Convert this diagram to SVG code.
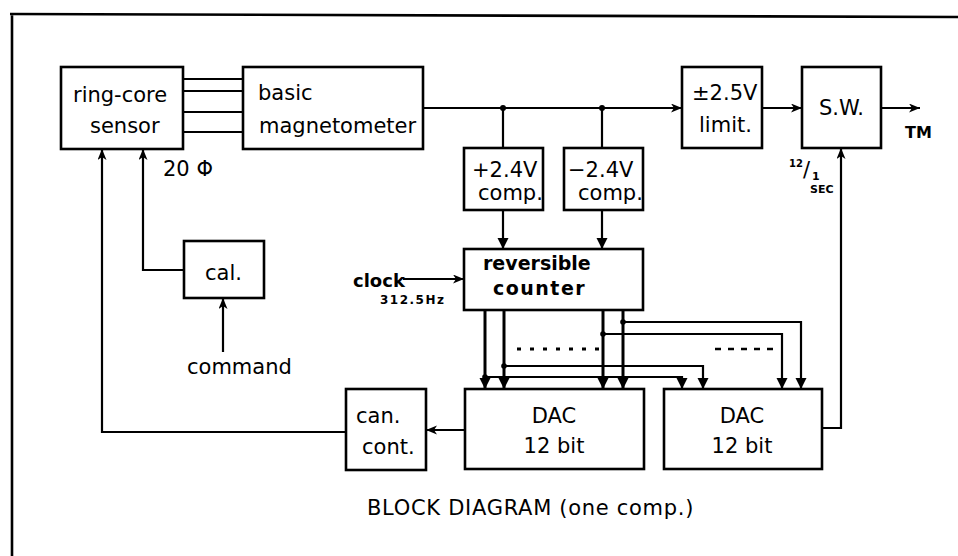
<svg xmlns="http://www.w3.org/2000/svg" width="958" height="556" viewBox="0 0 958 556">
<style>
.box{fill:none;stroke:#000;stroke-width:2.6}
.t{font-family:"DejaVu Sans",sans-serif;font-size:21px;fill:#000}
.tb{font-family:"DejaVu Sans",sans-serif;font-weight:bold;fill:#000}
.w{fill:none;stroke:#000;stroke-width:2.2}
.bus{fill:none;stroke:#000;stroke-width:3}
.dot{fill:#000}
</style>
<defs>
<marker id="a" markerUnits="userSpaceOnUse" markerWidth="12" markerHeight="10" refX="11" refY="4.5" orient="auto">
<path d="M0,0 L11,4.5 L0,9 L3,4.5 Z" fill="#000"/>
</marker>
<marker id="b" markerUnits="userSpaceOnUse" markerWidth="12" markerHeight="12" refX="11" refY="5.5" orient="auto">
<path d="M0,0 L11,5.5 L0,11 Z" fill="#000"/>
</marker>
</defs>
<rect width="958" height="556" fill="#fff"/>
<path d="M10,14 L958,17 M12,14 L12,556" fill="none" stroke="#000" stroke-width="2.6"/>

<g id="sensor"><rect class="box" x="61" y="67" width="122" height="82"/><text class="t" x="73" y="102">ring-core</text><text class="t" x="90" y="133">sensor</text></g>
<g id="magnetometer"><rect class="box" x="243" y="67" width="180" height="82"/><text class="t" x="258" y="100">basic</text><text class="t" x="259" y="133">magnetometer</text></g>
<g id="limit"><rect class="box" x="682" y="67" width="80" height="81"/><text class="t" x="692" y="100">±2.5V</text><text class="t" x="699" y="132">limit.</text></g>
<g id="sw"><rect class="box" x="802" y="67" width="79" height="81"/><text class="t" x="819" y="115">S.W.</text></g>
<g id="comp-plus"><rect class="box" x="464" y="148" width="79" height="62"/><text class="t" x="472" y="177" font-size="20">+2.4V</text><text class="t" x="478" y="200" font-size="20">comp.</text></g>
<g id="comp-minus"><rect class="box" x="564" y="148" width="79" height="62"/><text class="t" x="568" y="177" font-size="20">−2.4V</text><text class="t" x="578" y="200" font-size="20">comp.</text></g>
<g id="counter"><rect class="box" x="464" y="249" width="179" height="61"/><text class="tb" x="483" y="270" font-size="19">reversible</text><text class="tb" x="493" y="295" font-size="19" letter-spacing="1.5">counter</text></g>
<g id="cal"><rect class="box" x="184" y="241" width="80" height="57"/><text class="t" x="205" y="280">cal.</text></g>
<g id="cancont"><rect class="box" x="346" y="389" width="80" height="81"/><text class="t" x="356" y="423">can.</text><text class="t" x="362" y="454">cont.</text></g>
<g id="dac1"><rect class="box" x="465" y="389" width="179" height="80"/><text class="t" x="554" y="423" text-anchor="middle">DAC</text><text class="t" x="554" y="453" text-anchor="middle">12 bit</text></g>
<g id="dac2"><rect class="box" x="664" y="389" width="158" height="80"/><text class="t" x="742" y="423" text-anchor="middle">DAC</text><text class="t" x="742" y="453" text-anchor="middle">12 bit</text></g>

<g id="connectors">
<path class="w" d="M183,79 H243 M183,91 H243 M183,112 H243 M183,132 H243"/>
<path class="w" d="M423,108 H682" marker-end="url(#a)"/>
<path class="w" d="M762,108 H802" marker-end="url(#a)"/>
<path class="w" d="M881,108 H920" marker-end="url(#a)"/>
<path class="w" d="M503,108 V148 M602,108 V148"/>
<circle class="dot" cx="503" cy="108" r="3"/><circle class="dot" cx="602" cy="108" r="3"/>
<path class="w" d="M503,210 V249" marker-end="url(#b)"/>
<path class="w" d="M602,210 V249" marker-end="url(#b)"/>
<path class="w" d="M403,279 H464" marker-end="url(#a)"/>
<path class="w" d="M223,352 V298" marker-end="url(#a)"/>
<path class="w" d="M184,270 H143 V149" marker-end="url(#a)"/>
<path class="w" d="M346,432 H102 V149" marker-end="url(#a)"/>
<path class="w" d="M465,430 H426" marker-end="url(#a)"/>
<path class="w" d="M822,428 H841 V148" marker-end="url(#a)"/>
<path class="bus" d="M485,310 V389" marker-end="url(#b)"/>
<path class="bus" d="M504,310 V389" marker-end="url(#b)"/>
<path class="bus" d="M603,310 V389" marker-end="url(#b)"/>
<path class="bus" d="M623,310 V389" marker-end="url(#b)"/>
<path class="w" d="M623,322 H801 V389" marker-end="url(#b)"/>
<path class="w" d="M603,334 H782 V389" marker-end="url(#b)"/>
<path class="w" d="M504,366 H703 V389" marker-end="url(#b)"/>
<path class="w" d="M485,377 H682 V389" marker-end="url(#b)"/>
<circle class="dot" cx="623" cy="322" r="2.8"/><circle class="dot" cx="603" cy="334" r="2.8"/>
<circle class="dot" cx="504" cy="366" r="2.8"/><circle class="dot" cx="485" cy="377" r="2.8"/>
<path d="M517,349 H600" fill="none" stroke="#000" stroke-width="3" stroke-dasharray="4,9"/>
<path d="M715,349 H780" fill="none" stroke="#000" stroke-width="2.6" stroke-dasharray="6,7"/>
</g>

<text class="t" x="163" y="176" font-size="18">20 Φ</text>
<text class="tb" x="353" y="287" font-size="18">clock</text>
<text class="tb" x="380" y="304" font-size="12" letter-spacing="1.5">312.5Hz</text>
<text class="t" x="187" y="374">command</text>
<text class="tb" x="789" y="167" font-size="10">12</text>
<text class="t" x="803" y="177" font-size="15">/</text>
<text class="tb" x="812" y="180" font-size="11">1</text>
<text class="tb" x="810" y="193" font-size="11">SEC</text>
<text class="tb" x="905" y="138" font-size="16">TM</text>
<text class="t" x="367" y="515" font-size="19" letter-spacing="0.7">BLOCK  DIAGRAM  (one comp.)</text>
</svg>
